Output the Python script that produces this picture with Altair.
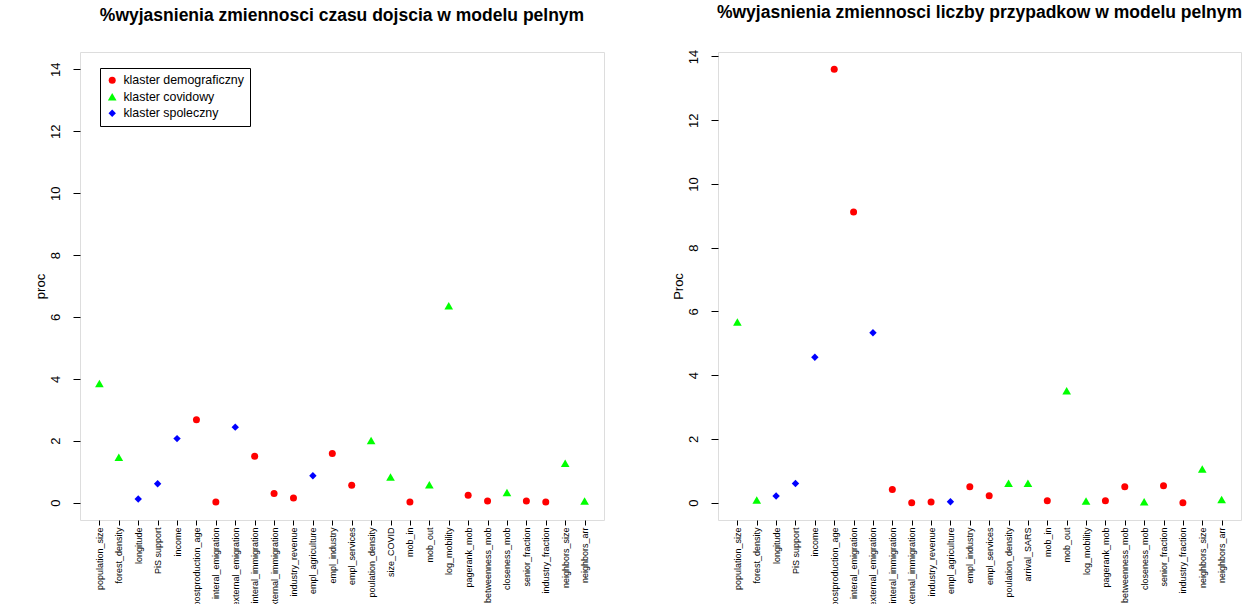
import altair as alt
import pandas as pd

names_left = ["population_size", "forest_density", "longitude", "PiS support", "income",
              "postproduction_age", "interal_emigration", "external_emigration",
              "interal_immigration", "external_immigration", "industry_revenue",
              "empl_agriculture", "empl_industry", "empl_services", "poulation_density",
              "size_COVID", "mob_in", "mob_out", "log_mobility", "pagerank_mob",
              "betweenness_mob", "closeness_mob", "senior_fraction", "industry_fraction",
              "neighbors_size", "neighbors_arr"]
vals_left = [3.85, 1.47, 0.12, 0.61, 2.07, 2.68, 0.02, 2.44, 1.50, 0.30, 0.15, 0.87,
             1.59, 0.56, 2.01, 0.83, 0.02, 0.58, 6.36, 0.24, 0.05, 0.33, 0.05, 0.02,
             1.27, 0.05]

names_right = ["population_size", "forest_density", "longitude", "PiS support", "income",
               "postproduction_age", "interal_emigration", "external_emigration",
               "interal_immigration", "external_immigration", "industry_revenue",
               "empl_agriculture", "empl_industry", "empl_services", "poulation_density",
               "arrival_SARS", "mob_in", "mob_out", "log_mobility", "pagerank_mob",
               "betweenness_mob", "closeness_mob", "senior_fraction", "industry_fraction",
               "neighbors_size", "neighbors_arr"]
vals_right = [5.67, 0.08, 0.21, 0.60, 4.56, 13.60, 9.12, 5.33, 0.41, 0.00, 0.02, 0.03,
              0.50, 0.22, 0.61, 0.61, 0.06, 3.51, 0.05, 0.06, 0.50, 0.03, 0.53, 0.00,
              1.06, 0.10]

D, C, S = "klaster demograficzny", "klaster covidowy", "klaster spoleczny"
groups = [C, C, S, S, S, D, D, S, D, D, D, S, D, D, C, C, D, C, C, D, D, C, D, D, C, C]

group_order = [D, C, S]
group_colors = ["#FF0000", "#00FF00", "#0000FF"]
group_shapes = ["circle", "triangle-up", "diamond"]
group_sizes = [49, 75, 55]

titles = ["%wyjasnienia zmiennosci czasu dojscia w modelu pelnym",
          "%wyjasnienia zmiennosci liczby przypadkow w modelu pelnym"]
ylabels = ["proc", "Proc"]
ydomains = [[-0.56, 14.56], [-0.544, 14.14]]
yticks = [0, 2, 4, 6, 8, 10, 12, 14]


def panel(names, vals, title, ylab, ydom, width, show_legend):
    df = pd.DataFrame({"var": names, "val": vals, "grp": groups})
    if show_legend:
        leg = alt.Legend(title=None, orient="none", legendX=20, legendY=16,
                         strokeColor="black", fillColor="white", padding=6,
                         labelFontSize=12.4, labelFont="Liberation Sans",
                         labelOffset=5, rowPadding=3.5, symbolStrokeWidth=0)
    else:
        leg = None
    sc_color = alt.Scale(type="ordinal", domain=group_order, range=group_colors)
    sc_shape = alt.Scale(type="ordinal", domain=group_order, range=group_shapes)
    sc_size = alt.Scale(type="ordinal", domain=group_order, range=group_sizes)
    return alt.Chart(df).mark_point(filled=True, opacity=1).encode(
        x=alt.X("var:N", sort=names, scale=alt.Scale(type="point", padding=1),
                axis=alt.Axis(title=None, labelAngle=270, labelFontSize=9,
                              labelPadding=2, tickSize=5, domain=False, grid=False,
                              tickColor="black", labelColor="black",
                              labelFont="Liberation Sans")),
        y=alt.Y("val:Q", scale=alt.Scale(domain=ydom, nice=False, zero=False),
                axis=alt.Axis(title=ylab, values=yticks, labelAngle=270,
                              labelAlign="center", labelBaseline="alphabetic",
                              labelPadding=14, tickSize=7, domain=False, grid=False,
                              tickColor="black", labelColor="black", labelFontSize=13,
                              labelFont="Liberation Sans",
                              titleFont="Liberation Sans", titleFontSize=13,
                              titleFontWeight="normal", titleColor="black",
                              titleAngle=270, titleBaseline="middle", titleAlign="center",
                              titleX=-40)),
        color=alt.Color("grp:N", scale=sc_color, legend=leg),
        shape=alt.Shape("grp:N", scale=sc_shape, legend=leg),
        size=alt.Size("grp:N", scale=sc_size, legend=leg),
    ).properties(
        width=width, height=468,
        title=alt.TitleParams(text=title, fontSize=17.5, fontWeight="bold",
                              font="Liberation Sans", anchor="middle", frame="group",
                              offset=28, color="black"),
    )


left = panel(names_left, vals_left, titles[0], ylabels[0], ydomains[0], 524, True)
right = panel(names_right, vals_right, titles[1], ylabels[1], ydomains[1], 523, False)

chart = alt.hconcat(left, right, spacing=66).resolve_scale(
    color="independent", shape="independent", size="independent"
).resolve_legend(
    color="independent", shape="independent", size="independent"
).properties(
    padding={"left": 33, "top": 3, "right": 0, "bottom": 0}
).configure_view(stroke="black", strokeWidth=1).configure(font="Liberation Sans")

chart.save("out.html", embed_options={"renderer": "svg", "actions": False})
